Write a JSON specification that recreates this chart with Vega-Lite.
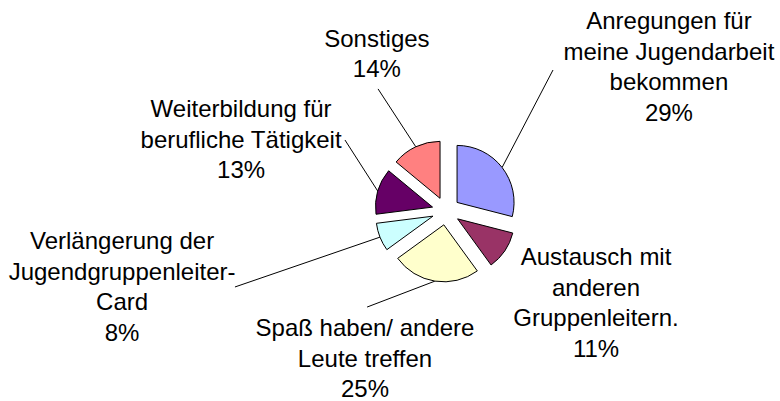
{
  "$schema": "https://vega.github.io/schema/vega-lite/v6.json",
  "width": 668,
  "height": 380,
  "autosize": "none",
  "padding": {"left": 112, "top": 21, "right": 0, "bottom": 0},
  "background": "white",
  "view": {"stroke": null},
  "config": {"font": "Liberation Sans"},
  "params": [
    {"name": "labR", "value": [264.9, 176.5, 169.2, 333.0, 216.6, 170.6]},
    {"name": "labO", "value": [5.1, -2.4, 19.6, 8.2, 2.7, 1.3]},
    {"name": "leadA", "value": [37.2, 124.2, 219.4, 250.2, 305.1, 330.9]},
    {"name": "leadR", "value": [177, 71, 124.3, 224.3, 123.5, 139.7]}
  ],
  "data": {
    "values": [
      {"nr": 1, "cat": "Anregungen für meine Jugendarbeit bekommen", "value": 29, "label": ["Anregungen für", "meine Jugendarbeit", "bekommen", "29%"]},
      {"nr": 2, "cat": "Austausch mit anderen Gruppenleitern.", "value": 11, "label": ["Austausch mit", "anderen", "Gruppenleitern.", "11%"]},
      {"nr": 3, "cat": "Spaß haben/ andere Leute treffen", "value": 25, "label": ["Spaß haben/ andere", "Leute treffen", "25%"]},
      {"nr": 4, "cat": "Verlängerung der Jugendgruppenleiter-Card", "value": 8, "label": ["Verlängerung der", "Jugendgruppenleiter-", "Card", "8%"]},
      {"nr": 5, "cat": "Weiterbildung für berufliche Tätigkeit", "value": 13, "label": ["Weiterbildung für", "berufliche Tätigkeit", "13%"]},
      {"nr": 6, "cat": "Sonstiges", "value": 14, "label": ["Sonstiges", "14%"]}
    ]
  },
  "layer": [
    {
      "transform": [
        {"stack": "value", "groupby": [], "sort": [{"field": "nr"}], "offset": "normalize", "as": ["s0", "s1"]},
        {"filter": "datum.nr != 2"}
      ],
      "mark": {"type": "rule", "color": "black", "strokeWidth": 1},
      "encoding": {
        "x": {"value": {"expr": "width/2 + 71*sin(PI*(datum.s0+datum.s1))"}},
        "y": {"value": {"expr": "height/2 - 71*cos(PI*(datum.s0+datum.s1))"}},
        "x2": {"value": {"expr": "width/2 + leadR[datum.nr-1]*sin(leadA[datum.nr-1]*PI/180)"}},
        "y2": {"value": {"expr": "height/2 - leadR[datum.nr-1]*cos(leadA[datum.nr-1]*PI/180)"}}
      }
    },
    {
      "mark": {
        "type": "arc",
        "outerRadius": 57,
        "stroke": "black",
        "strokeWidth": 1,
        "xOffset": {"expr": "14*sin(PI*(datum.value_start+datum.value_end)/100)"},
        "yOffset": {"expr": "-14*cos(PI*(datum.value_start+datum.value_end)/100)"}
      },
      "encoding": {
        "theta": {"field": "value", "type": "quantitative", "stack": true},
        "order": {"field": "nr", "type": "quantitative"},
        "color": {
          "field": "cat",
          "type": "nominal",
          "legend": null,
          "scale": {
            "domain": ["Anregungen für meine Jugendarbeit bekommen", "Austausch mit anderen Gruppenleitern.", "Spaß haben/ andere Leute treffen", "Verlängerung der Jugendgruppenleiter-Card", "Weiterbildung für berufliche Tätigkeit", "Sonstiges"],
            "range": ["#9999FF", "#993366", "#FFFFCC", "#CCFFFF", "#660066", "#FF8080"]
          }
        }
      }
    },
    {
      "mark": {
        "type": "text",
        "fontSize": 24,
        "lineHeight": 30.5,
        "font": "Liberation Sans",
        "color": "black",
        "align": "center",
        "baseline": "middle",
        "radius": {"expr": "labR[datum.nr-1]"},
        "thetaOffset": {"expr": "labO[datum.nr-1]*PI/180"},
        "dy": {"expr": "-(length(datum.label)-1)*30.5/2"}
      },
      "encoding": {
        "theta": {"field": "value", "type": "quantitative", "stack": true},
        "order": {"field": "nr", "type": "quantitative"},
        "text": {"field": "label"}
      }
    }
  ]
}
